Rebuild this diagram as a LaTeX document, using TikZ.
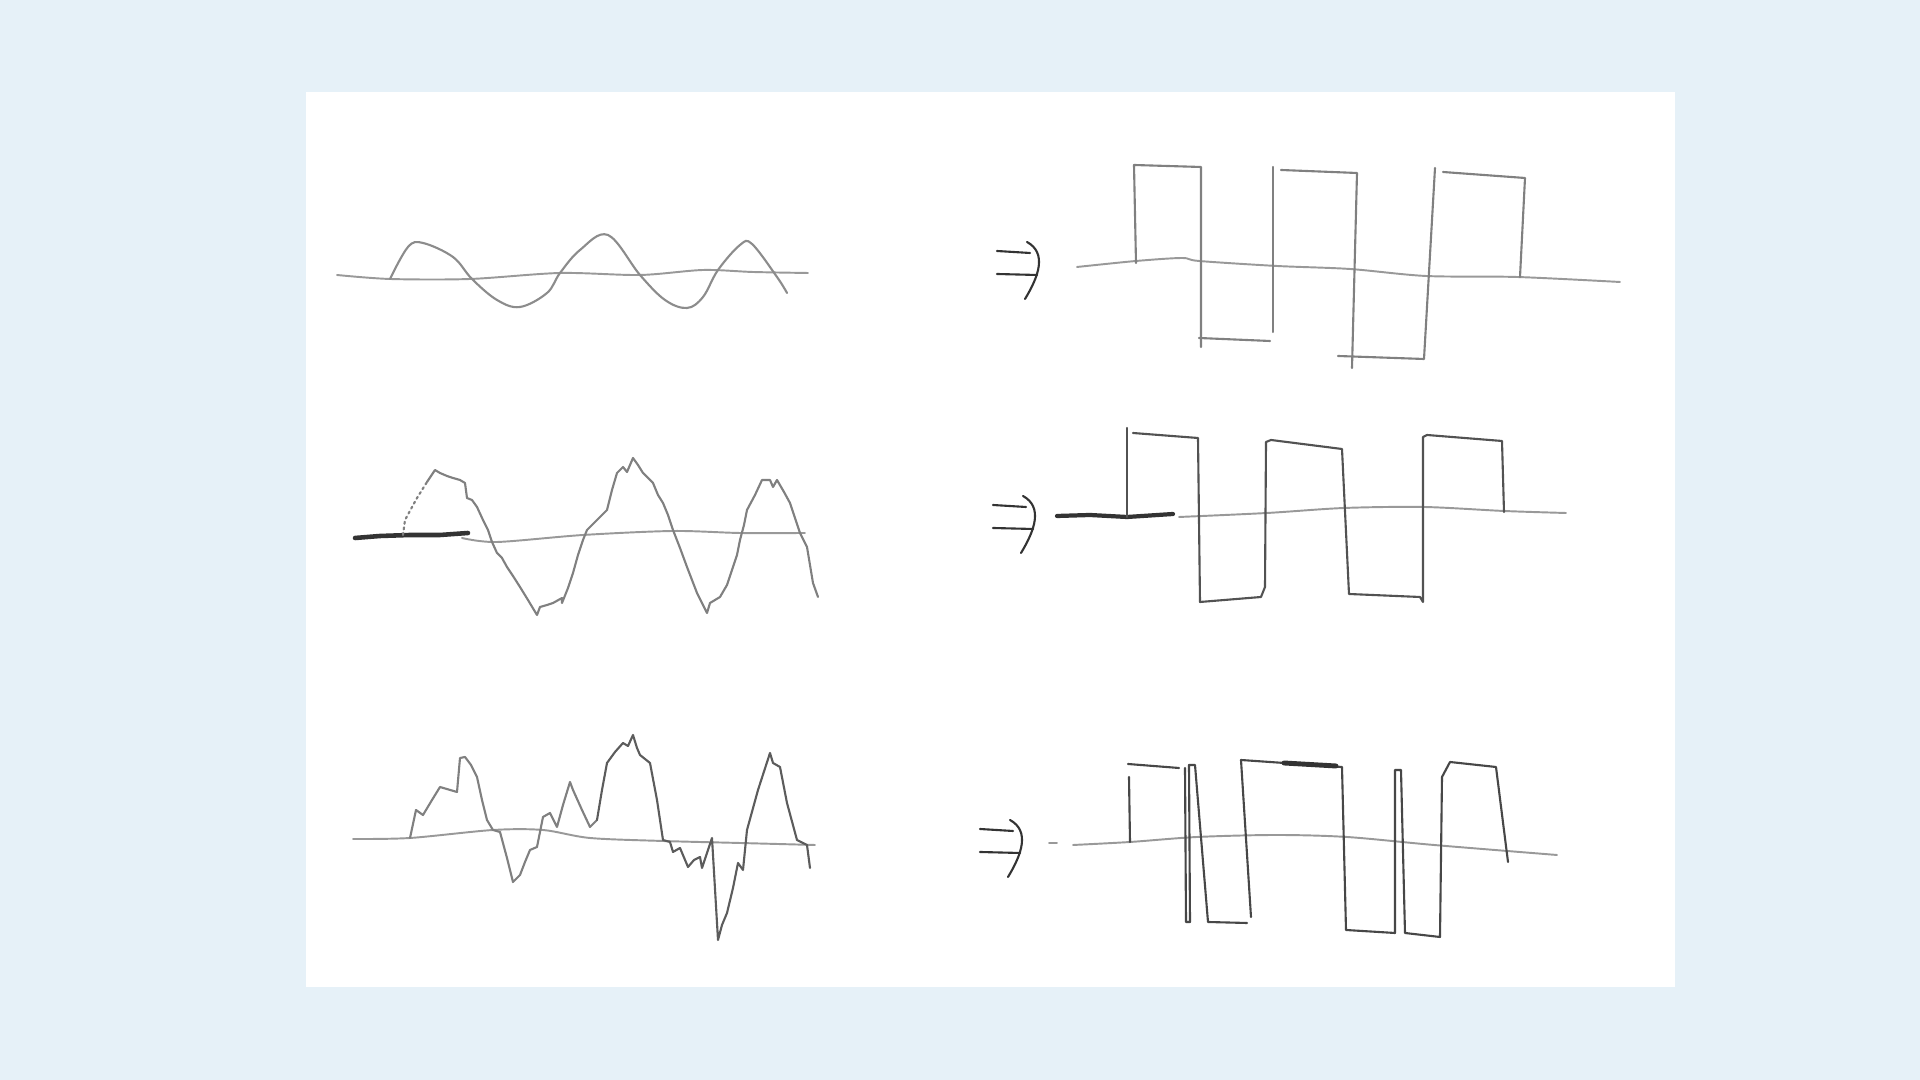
\documentclass[tikz,border=0pt]{standalone}
\usepackage{tikz}
\definecolor{bgblue}{HTML}{E6F1F8}
\definecolor{pencil}{gray}{0.5}
\definecolor{ink}{gray}{0.2}
\tikzset{
  axisline/.style={pencil!80,line width=0.55pt,line cap=round,line join=round},
  waveline/.style={pencil,line width=0.6pt,line cap=round,line join=round},
  pulseline/.style={pencil,line width=0.6pt,line cap=round,line join=round},
  arrowline/.style={ink,line width=0.6pt,line cap=round}
}
\begin{document}
\begin{tikzpicture}[x=0.01cm,y=-0.01cm]
    \useasboundingbox (0,0) rectangle (1920,1080);
    \fill[bgblue] (0,0) rectangle (1920,1080);
    \fill[white] (306,92) rectangle (1675,987);

    % clean sine
    \draw[axisline] plot[smooth] coordinates {(337,275) (390,279) (470,279) (560,273) (640,275) (703,270) (753,272) (808,273)};
    \draw[waveline,pencil!90] plot[smooth,tension=0.6] coordinates {(390,279) (408,247) (423,243) (453,257) (472,279) (497,300) (520,307) (547,293) (560,273) (580,250) (608,235) (640,275) (665,300) (687,308) (703,297) (718,270) (740,245) (752,244) (777,277) (787,293)};

    % noisy sine
    \draw[ink,line width=1.3pt,line cap=round] (355,538) -- (380,536) -- (410,535) -- (440,535) -- (468,533);
    \draw[axisline] plot[smooth] coordinates {(462,538) (497,542) (583,535) (673,531) (740,533) (805,533)};
    \draw[waveline,densely dotted] (403,535) -- (405,520) -- (417,498) -- (427,482);
    \draw[waveline] (427,482) -- (435,470) -- (440,473) -- (447,476) -- (453,478) -- (460,480) -- (465,483)
      -- (467,498) -- (472,500) -- (477,507) -- (483,520) -- (488,530) -- (492,542) -- (497,553) -- (502,558)
      -- (507,567) -- (513,576) -- (520,587) -- (528,600) -- (537,615) -- (540,607) -- (547,605) -- (553,603)
      -- (562,598) -- (562,603) -- (568,588) -- (573,573) -- (578,555) -- (583,540) -- (587,530) -- (597,520)
      -- (607,510) -- (612,490) -- (617,473) -- (623,467) -- (627,472) -- (633,458) -- (638,465) -- (643,473)
      -- (653,483) -- (658,495) -- (663,503) -- (668,515) -- (673,530) -- (680,548) -- (687,567) -- (697,593)
      -- (702,603) -- (707,613) -- (710,603) -- (715,600) -- (720,597) -- (727,585) -- (733,567) -- (737,555)
      -- (740,540) -- (744,525) -- (747,510) -- (755,495) -- (762,480) -- (770,480) -- (773,487) -- (777,480)
      -- (784,492) -- (790,503) -- (795,518) -- (800,533) -- (807,547) -- (810,565) -- (813,583) -- (818,597);

    % distorted signal
    \draw[axisline] plot[smooth] coordinates {(353,839) (410,838) (493,830) (543,830) (590,838) (663,841) (740,843) (815,845)};
    \draw[waveline] (410,838) -- (416,810) -- (423,815) -- (432,800) -- (440,787) -- (457,792) -- (460,758)
      -- (465,757) -- (471,765) -- (477,777) -- (482,800) -- (487,820) -- (493,830) -- (500,832) -- (507,858)
      -- (513,882) -- (520,875) -- (525,862) -- (530,850) -- (537,847) -- (543,817) -- (550,813) -- (557,827)
      -- (563,805) -- (570,782) -- (573,790) -- (582,810) -- (590,827) -- (597,820);
    \draw[waveline,ink!80] (597,820) -- (602,790) -- (607,763) -- (615,752) -- (623,743) -- (628,746)
      -- (633,735) -- (637,748) -- (640,755) -- (650,763) -- (657,800) -- (663,840) -- (670,842) -- (673,852)
      -- (680,848) -- (688,867) -- (694,860) -- (700,857) -- (702,868) -- (712,838) -- (718,940) -- (722,925)
      -- (727,913) -- (733,888) -- (738,863) -- (743,870) -- (747,830) -- (758,790) -- (770,753) -- (773,763)
      -- (780,767) -- (787,803) -- (797,840) -- (807,845) -- (810,868);

    % hand drawn arrows
    \foreach \ax/\ay in {997/251, 993/505, 980/829}{
      \draw[arrowline] (\ax,\ay) -- ({\ax+33},{\ay+2});
      \draw[arrowline] (\ax,{\ay+23}) -- ({\ax+40},{\ay+24});
      \draw[arrowline] ({\ax+30},{\ay-9}) .. controls ({\ax+50},{\ay+2}) and ({\ax+42},{\ay+25}) .. ({\ax+28},{\ay+48});
    }

    % square wave 1
    \draw[axisline] plot[smooth] coordinates {(1077,267) (1136,261) (1182,258) (1199,261) (1277,266) (1350,269) (1426,276) (1517,277) (1620,282)};
    \draw[pulseline] (1136,263) -- (1134,165) -- (1201,167) -- (1201,347);
    \draw[pulseline] (1199,338) -- (1270,341);
    \draw[pulseline] (1273,332) -- (1273,167);
    \draw[pulseline] (1281,170) -- (1357,173) -- (1352,368);
    \draw[pulseline] (1338,356) -- (1424,359) -- (1435,168);
    \draw[pulseline] (1443,172) -- (1525,178) -- (1520,277);

    % square wave 2
    \draw[ink,line width=1.2pt,line cap=round] (1057,516) -- (1090,515) -- (1127,517) -- (1173,514);
    \draw[axisline] plot[smooth] coordinates {(1179,517) (1267,513) (1344,508) (1424,507) (1504,511) (1566,513)};
    \draw[pulseline,ink!85] (1127,517) -- (1127,428);
    \draw[pulseline,ink!85] (1133,433) -- (1198,438) -- (1200,602) -- (1261,597) -- (1265,587)
      -- (1266,442) -- (1271,440) -- (1342,449) -- (1349,594) -- (1420,597) -- (1423,602)
      -- (1423,437) -- (1427,435) -- (1502,441) -- (1504,512);

    % square wave 3
    \draw[axisline] (1049,843) -- (1057,843);
    \draw[axisline] plot[smooth] coordinates {(1073,845) (1130,842) (1197,837) (1276,835) (1347,837) (1434,845) (1557,855)};
    \draw[pulseline,ink!90] (1130,842) -- (1129,777);
    \draw[pulseline,ink!90] (1128,764) -- (1179,768);
    \draw[pulseline,ink!90] (1185,768) -- (1186,922) -- (1190,922) -- (1189,765) -- (1195,765) -- (1208,922) -- (1247,923);
    \draw[pulseline,ink!90] (1251,917) -- (1241,760) -- (1342,767) -- (1346,930) -- (1395,933)
      -- (1395,770) -- (1401,770) -- (1405,933) -- (1440,937) -- (1442,777) -- (1450,762)
      -- (1496,767) -- (1508,862);
    \draw[ink,line width=1.4pt,line cap=round] (1284,763) -- (1336,766);
\end{tikzpicture}
\end{document}
